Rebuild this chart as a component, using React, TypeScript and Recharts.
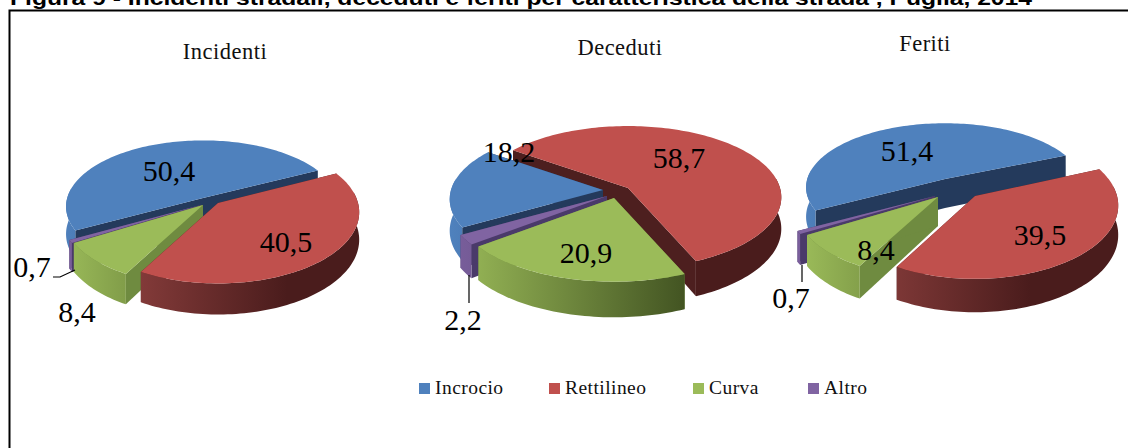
import React from 'react';
import { PieChart, Pie, Legend } from 'recharts';

const categories = ['Incrocio', 'Rettilineo', 'Curva', 'Altro'];
const incidenti = [50.4, 40.5, 8.4, 0.7];
const deceduti = [18.2, 58.7, 20.9, 2.2];
const feriti = [51.4, 39.5, 8.4, 0.7];
const chartTitles = ['Incidenti', 'Deceduti', 'Feriti'];
const figureTitle = 'Figura 9 - Incidenti stradali, deceduti e feriti per caratteristica della strada , Puglia, 2014';

const topColors = ['#4f81bd', '#c0504d', '#9bbb59', '#8064a2'];
const cutColors = ['#243a5c', '#4d1f1f', '#6f8b40', '#4a3a6a'];
const wallFrom = ['#4f81bd', '#a04a48', '#9bbb59', '#7a5f9c'];
const wallTo = ['#243a5c', '#4a1c1c', '#3f5020', '#3f3060'];

const K = 0.13;
const toRow = (vals: number[]) => vals.map((value, i) => ({ name: categories[i], value }));

const layouts = [
  {
    values: incidenti, cx: 203, cy: 198, rx: 140, ry: 70, d: 27, start: 208,
    order: [0, 3, 2, 1],
    slices: [[0, 0, 0.97, 0.93], [15, 5, 1, 1], [0, 7, 1, 1], [-2, 7, 1, 1]],
    title: [225, 59],
    labels: [[169, 181], [286, 252], [77, 322], [32, 277]],
    leader: [3, 'M75 270 L60 277 L53 277'],
  },
  {
    values: deceduti, cx: 603, cy: 190, rx: 152, ry: 70, d: 31, start: 210,
    order: [1, 0, 3, 2],
    slices: [[0, 0, 1, 1], [25, -2, 1, 1], [11, 8, 1.04, 1.04], [4, 6, 1.04, 1.04]],
    title: [620, 55],
    labels: [[509, 162], [679, 168], [586, 263], [463, 330]],
    leader: [3, 'M469 275 L469 303'],
  },
  {
    values: feriti, cx: 945, cy: 179, rx: 142, ry: 70, d: 29, start: 208,
    order: [0, 3, 2, 1],
    slices: [[0, 0, 0.97, 0.9], [30, 17, 1, 1.03], [-7, 18, 1, 1], [-10, 17, 1.03, 1]],
    title: [925, 51],
    labels: [[907, 161], [1040, 245], [876, 260], [791, 308]],
    leader: [3, 'M802 265 L802 282'],
  },
];

const legendX = [419, 549, 693, 808];

function makeShape(chartIndex: number, sliceIndex: number) {
  const L = layouts[chartIndex];
  return (props: any) => {
    const name = props.name ?? props.payload?.name;
    if (name !== categories[sliceIndex]) return <g />;
    const [dx, dy, sx, sy] = L.slices[sliceIndex];
    const ox = props.cx + dx;
    const oy = props.cy + dy;
    const rx = props.outerRadius;
    const project = (deg: number, r = 1) => {
      const a = (deg * Math.PI) / 180;
      const c = Math.cos(a) * r;
      const s = -Math.sin(a) * r;
      const den = 1 - K * s;
      return {
        x: ox + (rx * sx * c) / den,
        y: oy + (L.ry * sy * s) / den,
        drop: L.d / den,
        s,
      };
    };
    const from = props.startAngle as number;
    const to = props.endAngle as number;
    const steps = Math.max(2, Math.ceil(Math.abs(from - to) / 1.5));
    const arc = Array.from({ length: steps + 1 }, (_, i) => project(from + ((to - from) * i) / steps));
    const apex = project(0, 0);
    const f = (n: number) => n.toFixed(2);
    const pt = (p: any, down = false) => `${f(p.x)} ${f(p.y + (down ? p.drop : 0))}`;
    const topPath = `M${pt(apex)} L${arc.map((p) => pt(p)).join(' L')} Z`;
    const cut = (p: any) => `M${pt(apex)} L${pt(p)} L${pt(p, true)} L${pt(apex, true)} Z`;
    const front = arc.filter((p) => p.s > -0.16);
    const wallPath = front.length > 1
      ? `M${front.map((p) => pt(p)).join(' L')} L${[...front].reverse().map((p) => pt(p, true)).join(' L')} Z`
      : '';
    const gid = `wall-${chartIndex}-${sliceIndex}`;
    return (
      <g>
        <defs>
          <linearGradient id={gid} gradientUnits="userSpaceOnUse" x1={props.cx - rx} x2={props.cx + rx} y1={0} y2={0}>
            <stop offset="0" stopColor={wallFrom[sliceIndex]} />
            <stop offset="0.8" stopColor={wallTo[sliceIndex]} />
          </linearGradient>
        </defs>
        <path d={cut(arc[0])} fill={cutColors[sliceIndex]} />
        <path d={cut(arc[arc.length - 1])} fill={cutColors[sliceIndex]} />
        {wallPath && <path d={wallPath} fill={`url(#${gid})`} />}
        <path d={topPath} fill={topColors[sliceIndex]} />
      </g>
    );
  };
}

function makeLabel(chartIndex: number) {
  const L = layouts[chartIndex];
  return (props: any) => {
    const i = categories.indexOf(props.name ?? props.payload?.name);
    const [x, y] = L.labels[i];
    return (
      <g>
        {L.leader[0] === i && <path d={L.leader[1] as string} fill="none" stroke="#000" strokeWidth={1.2} />}
        <text x={x} y={y} textAnchor="middle" fontFamily="'Liberation Serif', serif" fontSize={30} fill="#000">
          {String(props.value).replace('.', ',')}
        </text>
      </g>
    );
  };
}

function LegendBox() {
  return (
    <div style={{ position: 'relative', width: 1128, height: 30, fontFamily: "'Liberation Serif', serif", fontSize: 19.5, letterSpacing: 0.45, color: '#111' }}>
      {categories.map((c, i) => (
        <div key={c} style={{ position: 'absolute', left: legendX[i], top: 0, display: 'flex', alignItems: 'center', height: 24, whiteSpace: 'nowrap' }}>
          <span style={{ display: 'inline-block', width: 11, height: 11, background: topColors[i], marginRight: 5 }} />
          <span>{c}</span>
        </div>
      ))}
    </div>
  );
}

export default function App() {
  return (
    <div style={{ position: 'absolute', left: 0, top: 0, width: 1128, height: 448, background: '#fff' }}>
      <PieChart width={1128} height={448} margin={{ top: 0, right: 0, bottom: 0, left: 0 }}>
        <text x={10} y={5} fontFamily="'Liberation Sans', sans-serif" fontWeight={700} fontSize={21} textLength={1022} lengthAdjust="spacingAndGlyphs" fill="#000">
          {figureTitle}
        </text>
        <path d="M1128 10.5 L9.5 10.5 L9.5 448" fill="none" stroke="#000" strokeWidth={2} />
        {layouts.map((L, ci) => (
          <text key={chartTitles[ci]} x={L.title[0]} y={L.title[1]} textAnchor="middle" fontFamily="'Liberation Serif', serif" fontSize={22.5} letterSpacing={0.5} fill="#111">
            {chartTitles[ci]}
          </text>
        ))}
        {layouts.flatMap((L, ci) => [
          ...L.order.map((si) => (
            <Pie
              key={`p${ci}-${si}`}
              data={toRow(L.values)}
              dataKey="value"
              nameKey="name"
              cx={L.cx}
              cy={L.cy}
              innerRadius={0}
              outerRadius={L.rx}
              startAngle={L.start}
              endAngle={L.start - 360}
              stroke="none"
              isAnimationActive={false}
              legendType="none"
              shape={makeShape(ci, si)}
            />
          )),
          <Pie
            key={`l${ci}`}
            data={toRow(L.values)}
            dataKey="value"
            nameKey="name"
            cx={L.cx}
            cy={L.cy}
            innerRadius={0}
            outerRadius={L.rx}
            startAngle={L.start}
            endAngle={L.start - 360}
            isAnimationActive={false}
            legendType="none"
            shape={() => <g />}
            labelLine={false}
            label={makeLabel(ci)}
          />,
        ])}
        <Legend content={() => <LegendBox />} wrapperStyle={{ position: 'absolute', left: 0, top: 376, width: 1128, height: 30 }} />
      </PieChart>
    </div>
  );
}
